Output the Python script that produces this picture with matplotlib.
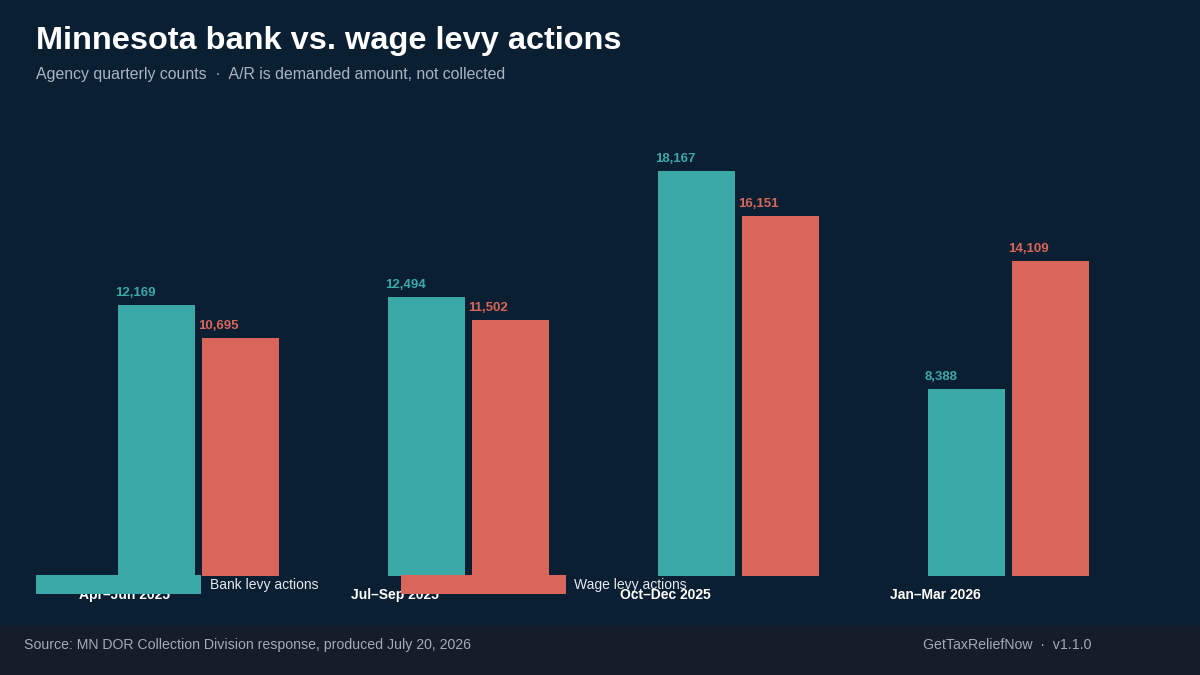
import matplotlib as mpl
mpl.use('Agg')
import matplotlib.pyplot as plt
from matplotlib.patches import Rectangle

# quarterly counts
quarters = ['Apr\u2013Jun 2025', 'Jul\u2013Sep 2025', 'Oct\u2013Dec 2025', 'Jan\u2013Mar 2026']
bank = [12169, 12494, 18167, 8388]
wage = [10695, 11502, 16151, 14109]

BG = '#0b1f33'
FOOT = '#151c2a'
TEAL = '#3ba8a8'
CORAL = '#d8665a'

plt.rcParams['font.family'] = ['Liberation Sans', 'DejaVu Sans']

W, H = 1200, 675
fig = plt.figure(figsize=(12, 6.75), dpi=100, facecolor=BG)

# footer band
fig.patches.append(Rectangle((0, 0), 1, 50 / H, transform=fig.transFigure,
                             facecolor=FOOT, edgecolor='none', zorder=0))

# axes: baseline at y=576 px, 270 px per group
ax = fig.add_axes([0, (H - 576) / H, 1, (576 - 110) / H])
ax.set_facecolor('none')
x0 = -125 / 270
ax.set_xlim(x0, x0 + W / 270)
ax.set_ylim(0, 466 / (405 / 18167))

bw = 77 / 270
xs = list(range(len(quarters)))
b_left = [i - 7 / 270 for i in xs]
w_left = [i + 77 / 270 for i in xs]
ax.bar(b_left, bank, width=bw, align='edge', color=TEAL, label='Bank levy actions', zorder=2)
ax.bar(w_left, wage, width=bw, align='edge', color=CORAL, label='Wage levy actions', zorder=2)

for xl, v in zip(b_left, bank):
    ax.annotate(f'{v:,}', (xl, v), xytext=(-3, 9), textcoords='offset pixels',
                ha='left', va='baseline', color=TEAL, fontsize=9.5, fontweight='bold')
for xl, v in zip(w_left, wage):
    ax.annotate(f'{v:,}', (xl, v), xytext=(-4, 9), textcoords='offset pixels',
                ha='left', va='baseline', color=CORAL, fontsize=9.5, fontweight='bold')

ax.set_xticks(xs)
ax.set_xticklabels(quarters, color='white', fontsize=10, fontweight='bold')
ax.tick_params(axis='x', length=0, pad=8.5)
ax.set_yticks([])
for s in ax.spines.values():
    s.set_visible(False)

fs = 10
px = fs * 100 / 72
fig.legend(loc='upper left', bbox_to_anchor=(36 / W, 1 - 575 / H), ncol=2,
           frameon=False, fontsize=fs, labelcolor='#e6e9ee',
           handlelength=165 / px, handleheight=1.73, handletextpad=9 / px,
           columnspacing=82 / px, borderpad=0, borderaxespad=0)

fig.text(36 / W, 1 - 41 / H, 'Minnesota bank vs. wage levy actions', color='white',
         fontsize=23.4, fontweight='bold', va='center', ha='left')
fig.text(36 / W, 1 - 74 / H, 'Agency quarterly counts  \u00b7  A/R is demanded amount, not collected',
         color='#a9b4c2', fontsize=11.4, va='center', ha='left')

fig.text(24 / W, 30 / H, 'Source: MN DOR Collection Division response, produced July 20, 2026',
         color='#a3abb8', fontsize=10.2, va='center', ha='left')
fig.text(1091 / W, 30 / H, 'GetTaxReliefNow  \u00b7  v1.1.0',
         color='#a3abb8', fontsize=10.2, va='center', ha='right')

fig.savefig('out.png', dpi=100, facecolor=BG)
